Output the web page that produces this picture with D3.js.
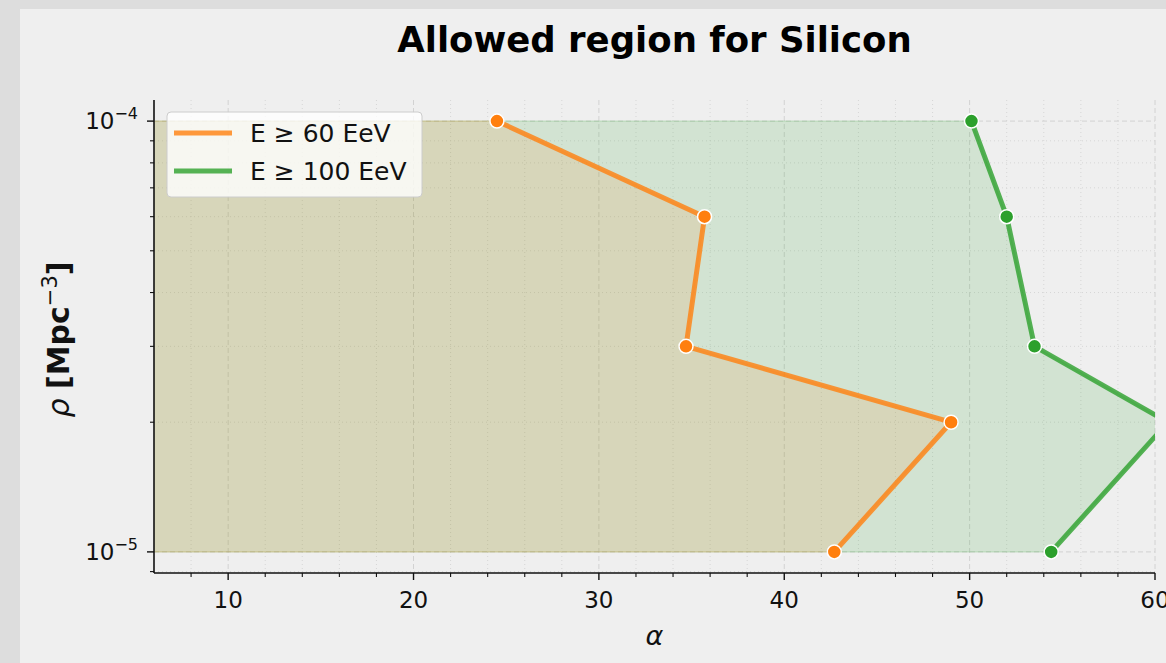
<!DOCTYPE html>
<html>
<head>
<meta charset="utf-8">
<script src="https://cdn.jsdelivr.net/npm/d3@7"></script>
<style>
  html, body { margin: 0; padding: 0; background: #dddddd; }
  svg { display: block; font-family: "DejaVu Sans", sans-serif; }
</style>
</head>
<body>
<div id="chart"></div>
<script>
// Allowed (alpha, rho) region for Silicon, two energy thresholds
const rhoValues = [1e-4, 6e-5, 3e-5, 2e-5, 1e-5];
const alpha60 = [24.5, 35.7, 34.7, 49.0, 42.7];
const alpha100 = [50.1, 52.0, 53.5, 60.7, 54.4];
const seriesNames = ["E \u2265 60 EeV", "E \u2265 100 EeV"];
const xTicks = [10, 20, 30, 40, 50, 60];
const yTickExponents = [-4, -5];

const series = [
  { name: seriesNames[0], alpha: alpha60, color: "#ff7f0e", fillOpacity: 0.12 },
  { name: seriesNames[1], alpha: alpha100, color: "#2ca02c", fillOpacity: 0.15 },
];

const width = 1166, height = 663;
const margin = { top: 100, right: 11, bottom: 90, left: 154 };
const innerWidth = width - margin.left - margin.right;
const innerHeight = height - margin.top - margin.bottom;

const x = d3.scaleLinear().domain([6, 60]).range([0, innerWidth]);
const y = d3.scaleLog()
  .domain([Math.pow(10, -5.049), Math.pow(10, -3.951)])
  .range([innerHeight, 0]);

const svg = d3.select("#chart").append("svg")
  .attr("width", width).attr("height", height);

// figure background (grey strip top/left like the screenshot)
svg.append("rect").attr("width", width).attr("height", height).attr("fill", "#dddddd");
svg.append("rect").attr("x", 20).attr("y", 9)
  .attr("width", width - 20).attr("height", height - 9).attr("fill", "#efefef");

const g = svg.append("g").attr("transform", `translate(${margin.left},${margin.top})`);

g.append("clipPath").attr("id", "clip")
  .append("rect").attr("width", innerWidth).attr("height", innerHeight);

// Grid: minor dotted, major dashed
const xMinor = d3.range(8, 60, 2).filter((v) => v % 10 !== 0);
const yMinor = [9e-6, 2e-5, 3e-5, 4e-5, 5e-5, 6e-5, 7e-5, 8e-5, 9e-5];
const yMajor = yTickExponents.map((e) => Math.pow(10, e));

xMinor.forEach((v) => {
  g.append("line").attr("x1", x(v)).attr("x2", x(v)).attr("y1", 0).attr("y2", innerHeight)
    .attr("stroke", "#d6d6d6").attr("stroke-width", 1).attr("stroke-dasharray", "1,3");
});
yMinor.forEach((v) => {
  g.append("line").attr("x1", 0).attr("x2", innerWidth).attr("y1", y(v)).attr("y2", y(v))
    .attr("stroke", "#d6d6d6").attr("stroke-width", 1).attr("stroke-dasharray", "1,3");
});
xTicks.forEach((v) => {
  g.append("line").attr("x1", x(v)).attr("x2", x(v)).attr("y1", 0).attr("y2", innerHeight)
    .attr("stroke", "#d2d2d2").attr("stroke-width", 1).attr("stroke-dasharray", "5,3");
});
yMajor.forEach((v) => {
  g.append("line").attr("x1", 0).attr("x2", innerWidth).attr("y1", y(v)).attr("y2", y(v))
    .attr("stroke", "#d2d2d2").attr("stroke-width", 1).attr("stroke-dasharray", "5,3");
});

const plot = g.append("g").attr("clip-path", "url(#clip)");

// Filled regions (green first, orange on top)
const area = d3.area()
  .y((d) => y(d.rho))
  .x0(x(0))
  .x1((d) => x(d.alpha));

[series[1], series[0]].forEach((s) => {
  const pts = rhoValues.map((r, i) => ({ rho: r, alpha: s.alpha[i] }));
  plot.append("path")
    .datum(pts)
    .attr("d", area)
    .attr("fill", s.color)
    .attr("fill-opacity", s.fillOpacity)
    .attr("stroke", s.color)
    .attr("stroke-opacity", s.fillOpacity)
    .attr("stroke-width", 1.5);
});

// Lines + markers
const line = d3.line().x((d) => x(d.alpha)).y((d) => y(d.rho));
series.forEach((s) => {
  const pts = rhoValues.map((r, i) => ({ rho: r, alpha: s.alpha[i] }));
  plot.append("path")
    .datum(pts)
    .attr("d", line)
    .attr("fill", "none")
    .attr("stroke", s.color)
    .attr("stroke-opacity", 0.8)
    .attr("stroke-width", 5)
    .attr("stroke-linejoin", "round");
  plot.selectAll(null).data(pts).enter().append("circle")
    .attr("cx", (d) => x(d.alpha))
    .attr("cy", (d) => y(d.rho))
    .attr("r", 7)
    .attr("fill", s.color)
    .attr("stroke", "white")
    .attr("stroke-width", 1.5);
});

// Axes: left + bottom spines only
const axisColor = "#111";
g.append("line").attr("x1", 0).attr("x2", innerWidth).attr("y1", innerHeight).attr("y2", innerHeight)
  .attr("stroke", axisColor).attr("stroke-width", 1.6);
g.append("line").attr("x1", 0).attr("x2", 0).attr("y1", 0).attr("y2", innerHeight)
  .attr("stroke", axisColor).attr("stroke-width", 1.6);

xTicks.forEach((v) => {
  g.append("line").attr("x1", x(v)).attr("x2", x(v)).attr("y1", innerHeight).attr("y2", innerHeight + 7)
    .attr("stroke", axisColor).attr("stroke-width", 1.4);
  g.append("text").attr("x", x(v)).attr("y", innerHeight + 35)
    .attr("text-anchor", "middle").attr("font-size", 23).attr("fill", "#111")
    .text(v);
});
xMinor.forEach((v) => {
  g.append("line").attr("x1", x(v)).attr("x2", x(v)).attr("y1", innerHeight).attr("y2", innerHeight + 4)
    .attr("stroke", axisColor).attr("stroke-width", 1.1);
});
yMinor.forEach((v) => {
  g.append("line").attr("x1", 0).attr("x2", -4).attr("y1", y(v)).attr("y2", y(v))
    .attr("stroke", axisColor).attr("stroke-width", 1.1);
});
yTickExponents.forEach((e) => {
  const v = Math.pow(10, e);
  g.append("line").attr("x1", 0).attr("x2", -7).attr("y1", y(v)).attr("y2", y(v))
    .attr("stroke", axisColor).attr("stroke-width", 1.4);
  const t = g.append("text").attr("x", -16).attr("y", y(v) + 8)
    .attr("text-anchor", "end").attr("font-size", 23).attr("fill", "#111");
  t.append("tspan").text("10");
  t.append("tspan").attr("dy", -10).attr("font-size", 16).text("\u2212" + Math.abs(e));
});

// Title
svg.append("text")
  .attr("x", margin.left + innerWidth / 2).attr("y", 52)
  .attr("text-anchor", "middle").attr("font-size", 35.5).attr("font-weight", "bold")
  .attr("fill", "#000")
  .text("Allowed region for Silicon");

// Axis labels
svg.append("text")
  .attr("x", margin.left + innerWidth / 2).attr("y", 645)
  .attr("text-anchor", "middle").attr("font-size", 27).attr("font-style", "italic")
  .attr("fill", "#111")
  .text("\u03b1");

const yl = svg.append("text")
  .attr("transform", `translate(69, ${margin.top + innerHeight / 2 + 3}) rotate(-90)`)
  .attr("text-anchor", "middle").attr("font-size", 30).attr("fill", "#111");
yl.append("tspan").attr("font-style", "italic").text("\u03c1 ");
yl.append("tspan").attr("font-weight", "bold").text("[Mpc");
yl.append("tspan").attr("dy", -12).attr("font-size", 21).text("\u22123");
yl.append("tspan").attr("dy", 12).attr("font-weight", "bold").text("]");

// Legend
const legend = g.append("g").attr("transform", "translate(13, 12)");
legend.append("rect")
  .attr("width", 255).attr("height", 85).attr("rx", 4)
  .attr("fill", "#ffffff").attr("fill-opacity", 0.8)
  .attr("stroke", "#cccccc").attr("stroke-width", 1);
series.forEach((s, i) => {
  const ly = 21 + i * 38;
  legend.append("line").attr("x1", 7).attr("x2", 65).attr("y1", ly).attr("y2", ly)
    .attr("stroke", s.color).attr("stroke-opacity", 0.8).attr("stroke-width", 5);
  legend.append("text").attr("x", 83).attr("y", ly + 9)
    .attr("font-size", 25).attr("fill", "#111").text(s.name);
});
</script>
</body>
</html>
